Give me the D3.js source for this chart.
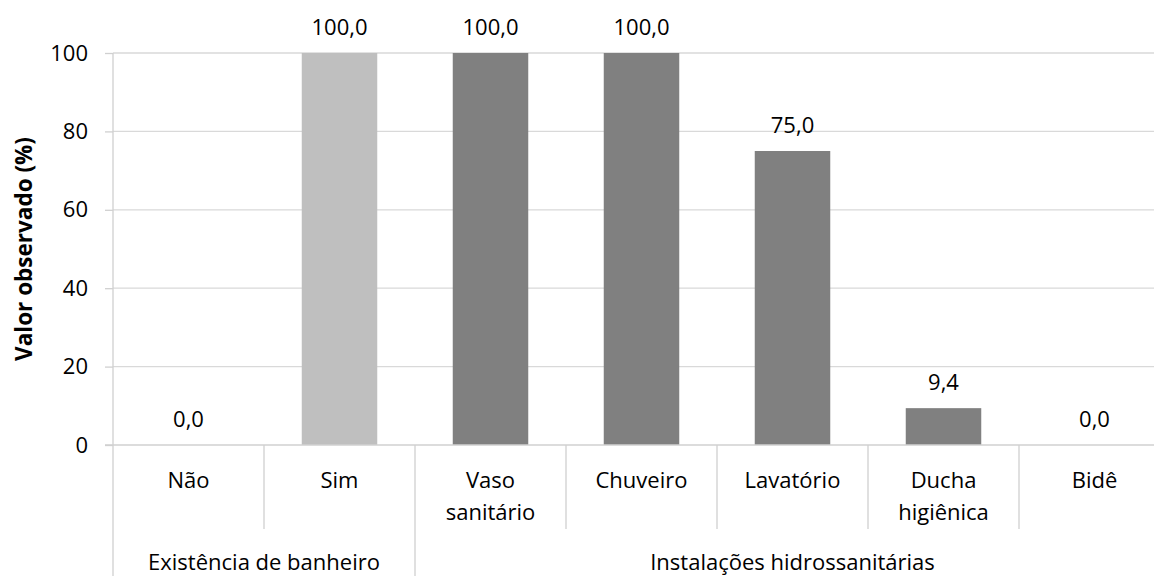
<!DOCTYPE html>
<html>
<head>
<meta charset="utf-8">
<script src="https://cdn.jsdelivr.net/npm/d3@7"></script>
<style>
  html, body { margin: 0; padding: 0; background: #fff; }
  svg { display: block; }
</style>
</head>
<body>
<svg id="chart" width="1154" height="576"></svg>
<script>
// ---- data ----
const categories = ["Não", "Sim", "Vaso sanitário", "Chuveiro", "Lavatório", "Ducha higiênica", "Bidê"];
const categoryLines = [["Não"], ["Sim"], ["Vaso", "sanitário"], ["Chuveiro"], ["Lavatório"], ["Ducha", "higiênica"], ["Bidê"]];
const values = [0.0, 100.0, 100.0, 100.0, 75.0, 9.4, 0.0];
const groups = ["Existência de banheiro", "Instalações hidrossanitárias"];
const groupIndex = [0, 0, 1, 1, 1, 1, 1];
const groupColors = ["#BFBFBF", "#808080"];
const yTicks = [0, 20, 40, 60, 80, 100];
const yTitle = "Valor observado (%)";

// ---- layout ----
const FONT = "'Open Sans', 'Noto Sans', sans-serif";
const FS = 22;
const pLeft = 113, pRight = 1170, pTop = 53, pBottom = 445;
const lineColor = "#D0D0D0";
const gridColor = "#D9D9D9";

const svg = d3.select("#chart");

const x = d3.scaleBand().domain(categories).range([pLeft, pRight]).paddingInner(0.5).paddingOuter(0.25);
const y = d3.scaleLinear().domain([0, 100]).range([pBottom, pTop]);
const step = x.step();

// gridlines
svg.append("g").selectAll("line").data(yTicks.filter(t => t !== 0)).join("line")
  .attr("x1", pLeft).attr("x2", pRight)
  .attr("y1", d => y(d)).attr("y2", d => y(d))
  .attr("stroke", gridColor).attr("stroke-width", 1.3);

// y axis
const yAxis = d3.axisLeft(y).tickValues(yTicks).tickSize(8).tickPadding(17).tickFormat(d3.format("d"));
const gy = svg.append("g").attr("transform", `translate(${pLeft},0)`).call(yAxis);
gy.select(".domain").attr("stroke", lineColor).attr("stroke-width", 1.3).attr("d", `M0,${pTop}V${pBottom}`);
gy.selectAll(".tick line").attr("stroke", lineColor).attr("stroke-width", 1.3);
gy.selectAll(".tick text").attr("font-family", FONT).attr("font-size", FS).attr("fill", "#000");

// bars
svg.append("g").selectAll("rect").data(categories).join("rect")
  .attr("x", d => x(d))
  .attr("width", x.bandwidth())
  .attr("y", (d, i) => y(values[i]))
  .attr("height", (d, i) => y(0) - y(values[i]))
  .attr("fill", (d, i) => groupColors[groupIndex[i]]);

// data labels
svg.append("g").selectAll("text").data(categories).join("text")
  .attr("x", d => x(d) + x.bandwidth() / 2)
  .attr("y", (d, i) => y(values[i]) - 18)
  .attr("text-anchor", "middle")
  .attr("font-family", FONT).attr("font-size", FS).attr("fill", "#000")
  .text((d, i) => d3.format(".1f")(values[i]).replace(".", ","));

// x axis baseline
svg.append("line").attr("x1", pLeft - 8).attr("x2", pRight)
  .attr("y1", pBottom).attr("y2", pBottom)
  .attr("stroke", lineColor).attr("stroke-width", 1.3);

// category separators
const bandLeft = d => x(d) - (step - x.bandwidth()) / 2;
const bounds = categories.map((d, i) => ({ pos: bandLeft(d), groupStart: i === 0 || groupIndex[i] !== groupIndex[i - 1] }));
bounds.push({ pos: bandLeft(categories[categories.length - 1]) + step, groupStart: true });
svg.append("g").selectAll("line").data(bounds).join("line")
  .attr("x1", d => d.pos).attr("x2", d => d.pos)
  .attr("y1", pBottom).attr("y2", d => d.groupStart ? 576 : 529)
  .attr("stroke", lineColor).attr("stroke-width", 1.3);

// category labels
const catG = svg.append("g").selectAll("text").data(categories).join("text")
  .attr("x", d => x(d) + x.bandwidth() / 2)
  .attr("y", 488)
  .attr("text-anchor", "middle")
  .attr("font-family", FONT).attr("font-size", FS).attr("fill", "#000");
catG.selectAll("tspan").data((d, i) => categoryLines[i]).join("tspan")
  .attr("x", function () { return d3.select(this.parentNode).attr("x"); })
  .attr("dy", (d, j) => j === 0 ? 0 : 32)
  .text(d => d);

// group labels
svg.append("g").selectAll("text").data(groups).join("text")
  .attr("x", (g, gi) => {
    const members = categories.filter((d, i) => groupIndex[i] === gi);
    const a = bandLeft(members[0]);
    const b = bandLeft(members[members.length - 1]) + step;
    return (a + b) / 2;
  })
  .attr("y", 570)
  .attr("text-anchor", "middle")
  .attr("font-family", FONT).attr("font-size", FS).attr("fill", "#000")
  .text(d => d);

// y title
svg.append("text")
  .attr("transform", `translate(32,${(pTop + pBottom) / 2}) rotate(-90)`)
  .attr("text-anchor", "middle")
  .attr("font-family", FONT).attr("font-size", 22.5).attr("font-weight", "bold").attr("fill", "#000")
  .text(yTitle);
</script>
</body>
</html>
